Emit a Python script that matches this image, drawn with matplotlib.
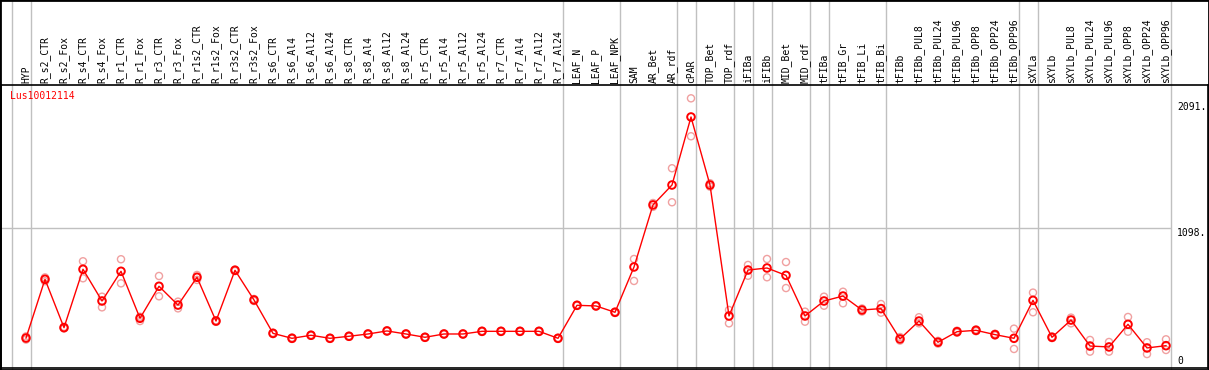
import numpy as np
import matplotlib.pyplot as plt
from matplotlib.patches import Rectangle
from matplotlib.transforms import blended_transform_factory

samples = ['HYP', 'R_s2_CTR', 'R_s2_Fox', 'R_s4_CTR', 'R_s4_Fox', 'R_r1_CTR', 'R_r1_Fox',
           'R_r3_CTR', 'R_r3_Fox', 'R_r1s2_CTR', 'R_r1s2_Fox', 'R_r3s2_CTR', 'R_r3s2_Fox',
           'R_s6_CTR', 'R_s6_Al4', 'R_s6_Al12', 'R_s6_Al24', 'R_s8_CTR', 'R_s8_Al4',
           'R_s8_Al12', 'R_s8_Al24', 'R_r5_CTR', 'R_r5_Al4', 'R_r5_Al12', 'R_r5_Al24',
           'R_r7_CTR', 'R_r7_Al4', 'R_r7_Al12', 'R_r7_Al24', 'LEAF_N', 'LEAF_P', 'LEAF_NPK',
           'SAM', 'AR_Bet', 'AR_rdf', 'cPAR', 'TOP_Bet', 'TOP_rdf', 'iFIBa', 'iFIBb',
           'MID_Bet', 'MID_rdf', 'tFIBa', 'tFIB_Gr', 'tFIB_Li', 'tFIB_Bi', 'tFIBb',
           'tFIBb_PUL8', 'tFIBb_PUL24', 'tFIBb_PUL96', 'tFIBb_OPP8', 'tFIBb_OPP24',
           'tFIBb_OPP96', 'sXYLa', 'sXYLb', 'sXYLb_PUL8', 'sXYLb_PUL24', 'sXYLb_PUL96',
           'sXYLb_OPP8', 'sXYLb_OPP24', 'sXYLb_OPP96']

means = [232, 695, 314, 774, 524, 758, 388, 640, 492, 711, 366, 766, 532,
         269, 230, 254, 230, 246, 264, 288, 264, 238, 264, 264, 285,
         285, 285, 285, 230, 490, 485, 435,
         792, 1281, 1438, 1974, 1438, 406, 768, 784, 726, 406,
         524, 563, 453, 464, 225, 366, 199, 282, 293, 259, 230,
         529, 238, 374, 169, 162, 340, 154, 172]

rep_a = [245, 710, 320, 837, 558, 853, 400, 721, 519, 729, 372, 772, 540,
         274, 236, 258, 234, 250, 268, 292, 268, 242, 268, 268, 289,
         289, 289, 289, 234, 494, 489, 440,
         855, 1296, 1570, 2121, 1452, 453, 808, 855, 831, 440,
         558, 597, 465, 500, 240, 396, 210, 290, 300, 266, 306,
         590, 244, 393, 217, 201, 398, 199, 222]

rep_b = [220, 680, 308, 703, 474, 663, 366, 561, 466, 690, 360, 760, 524,
         264, 226, 250, 226, 242, 260, 284, 260, 234, 260, 260, 281,
         281, 281, 281, 226, 486, 481, 430,
         682, 1266, 1302, 1822, 1425, 348, 723, 711, 626, 361,
         487, 506, 441, 432, 212, 348, 188, 274, 286, 252, 146,
         435, 232, 348, 125, 125, 282, 106, 138]

# last sample index of each group (-1 = before the first)
group_ends = [-1, 0, 28, 31, 34, 35, 37, 38, 39, 41, 42, 45, 52, 53, 60]

gene = 'Lus10012114'
ticks = [0, 1098, 2091]

W, H = 1209, 370
fig = plt.figure(figsize=(W / 100, H / 100), dpi=100)
ax = fig.add_axes([1 / W, 2 / H, 1207 / W, 283 / H])
mono = 'DejaVu Sans Mono'

x = np.arange(len(samples))
xmin = (1 - 26) / 19
xmax = (1208 - 26) / 19
ax.set_xlim(xmin, xmax)
ax.set_ylim(-4, 2226)
ax.set_xticks([])
ax.set_yticks([])
for s in ax.spines.values():
    s.set_color('black')
    s.set_linewidth(1.2)

grey = '#c0c0c0'
ax.hlines(ticks[1], xmin, group_ends[-1] + 0.25, color=grey, lw=1, zorder=1)

trans = blended_transform_factory(ax.transData, fig.transFigure)
for g in group_ends:
    ax.plot([g + 0.25, g + 0.25], [0, 1], color=grey, lw=1, transform=trans,
            clip_on=False, zorder=1)

ax.scatter(x, rep_a, s=26, facecolors='none', edgecolors='#f0a0a0', lw=1, zorder=2)
ax.scatter(x, rep_b, s=26, facecolors='none', edgecolors='#f0a0a0', lw=1, zorder=2)
ax.plot(x, means, color='red', lw=1, zorder=3)
ax.scatter(x, means, s=30, facecolors='none', edgecolors='red', lw=1.4, zorder=4)

for i, name in enumerate(samples):
    ax.text(i, 1 - 83 / H, name, rotation=90, ha='center', va='bottom',
            fontsize=7, family=mono, transform=trans)

fig.text(10 / W, 1 - 91 / H, gene, color='red', fontsize=7, family=mono,
         ha='left', va='top')

lx = (1177 - 26) / 19
ax.text(lx, ticks[2], f'{ticks[2]}.', fontsize=7, family=mono, ha='left', va='top')
ax.text(lx, ticks[1], f'{ticks[1]}.', fontsize=7, family=mono, ha='left', va='top')
ax.text(lx, ticks[0] + 10, f'{ticks[0]}', fontsize=7, family=mono, ha='left', va='bottom')

fig.patches.append(Rectangle((0, 0), 1, 1, transform=fig.transFigure, fill=False,
                             ec='black', lw=2))

fig.savefig('out.png', dpi=100)
